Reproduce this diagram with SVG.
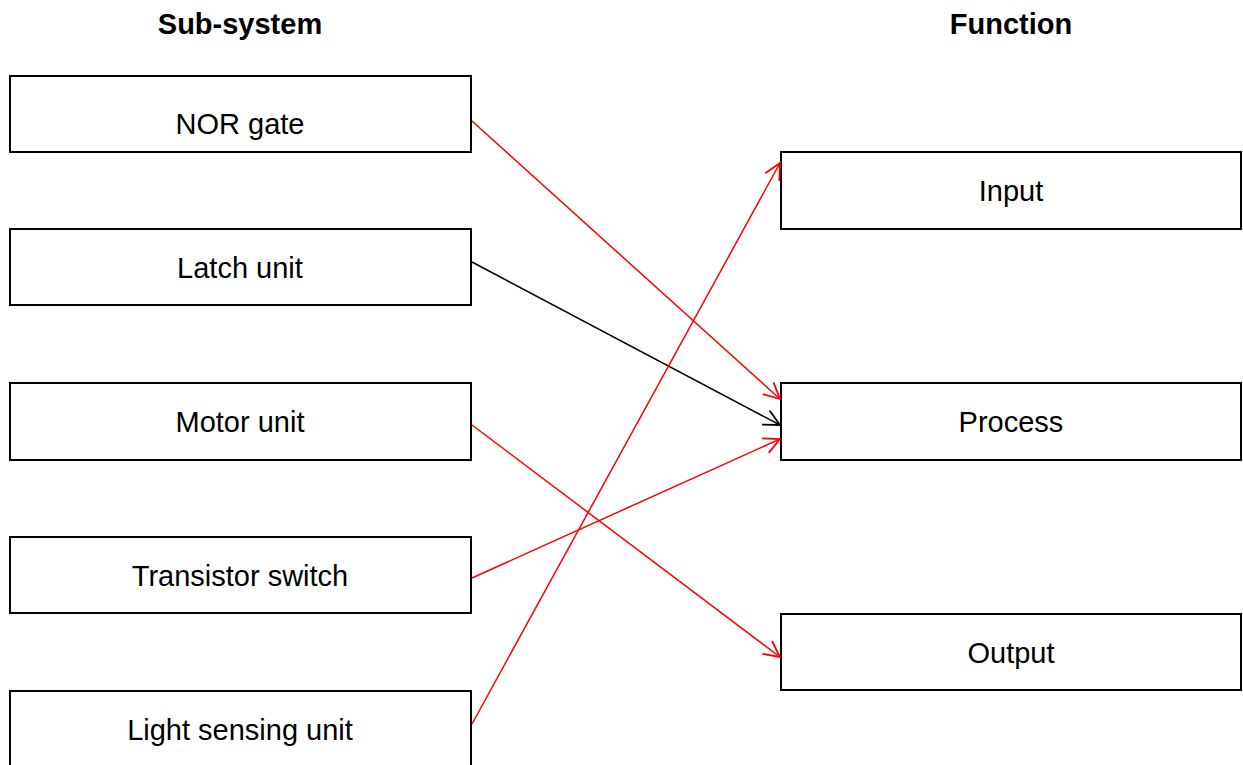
<svg xmlns="http://www.w3.org/2000/svg" width="1243" height="765" viewBox="0 0 1243 765">
<style>
.box{fill:#fff;stroke:#000;stroke-width:2}
.t{font-family:"Liberation Sans",Arial,sans-serif;font-size:29px;text-anchor:middle;dominant-baseline:central}
.h{font-family:"Liberation Sans",Arial,sans-serif;font-size:29px;font-weight:bold;text-anchor:middle;dominant-baseline:central}
.r{stroke:#ff0000;stroke-width:1.5;fill:none}
.k{stroke:#000;stroke-width:1.5;fill:none}
</style>
<defs>
<marker id="ar" markerUnits="userSpaceOnUse" markerWidth="24" markerHeight="24" refX="18" refY="12" orient="auto" viewBox="0 0 24 24">
<path d="M2,4 L18,12 L2,20" fill="none" stroke="#ff0000" stroke-width="1.8"/>
</marker>
<marker id="ak" markerUnits="userSpaceOnUse" markerWidth="24" markerHeight="24" refX="18" refY="12" orient="auto" viewBox="0 0 24 24">
<path d="M2,4 L18,12 L2,20" fill="none" stroke="#000" stroke-width="1.8"/>
</marker>
</defs>
<rect width="1243" height="765" fill="#fff"/>
<text class="h" x="240" y="24">Sub-system</text>
<text class="h" x="1011" y="24">Function</text>
<g id="nor"><rect class="box" x="10" y="76" width="461" height="76"/><text class="t" x="240" y="124">NOR gate</text></g>
<g id="latch"><rect class="box" x="10" y="229" width="461" height="76"/><text class="t" x="240" y="268">Latch unit</text></g>
<g id="motor"><rect class="box" x="10" y="383" width="461" height="77"/><text class="t" x="240" y="422">Motor unit</text></g>
<g id="transistor"><rect class="box" x="10" y="537" width="461" height="76"/><text class="t" x="240" y="576">Transistor switch</text></g>
<g id="light"><rect class="box" x="10" y="691" width="461" height="78"/><text class="t" x="240" y="730">Light sensing unit</text></g>
<g id="input"><rect class="box" x="781" y="152" width="460" height="77"/><text class="t" x="1011" y="191">Input</text></g>
<g id="process"><rect class="box" x="781" y="383" width="460" height="77"/><text class="t" x="1011" y="422">Process</text></g>
<g id="output"><rect class="box" x="781" y="614" width="460" height="76"/><text class="t" x="1011" y="653">Output</text></g>
<g id="connectors">
<line class="r" x1="472" y1="121" x2="780" y2="399" marker-end="url(#ar)"/>
<line class="k" x1="472" y1="262" x2="780" y2="425" marker-end="url(#ak)"/>
<line class="r" x1="472" y1="425" x2="780" y2="657" marker-end="url(#ar)"/>
<line class="r" x1="472" y1="578" x2="780" y2="439" marker-end="url(#ar)"/>
<line class="r" x1="472" y1="724" x2="780" y2="163" marker-end="url(#ar)"/>
</g>
</svg>
